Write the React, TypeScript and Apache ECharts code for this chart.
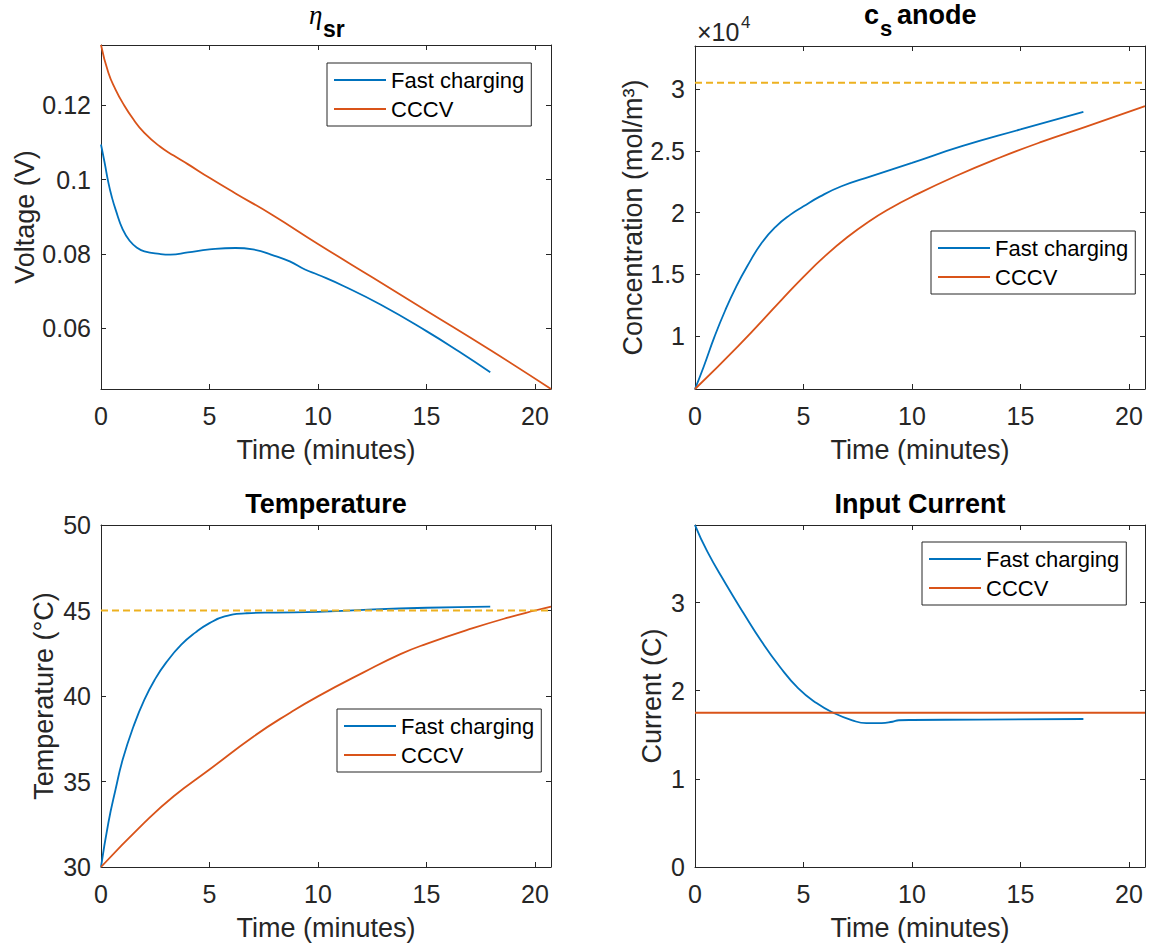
import React, { useEffect, useRef } from "react";
import * as echarts from "echarts";

// ---------- data ----------
const X_MAX = 20.74;
const xTicks = [0, 5, 10, 15, 20];

// eta_sr (V)
const etaFastT = [0, 0.17, 0.34, 0.5, 0.67, 1.0, 1.34, 1.68, 2.0, 2.7, 3.2, 4.0, 5.0, 6.2, 7.0, 8.0, 8.7, 9.4, 10, 11.2, 12.9, 15, 16.5, 17.94];
const etaFastV = [0.1095, 0.1045, 0.0992, 0.0953, 0.092, 0.0866, 0.0834, 0.0816, 0.0807, 0.08, 0.0798, 0.0804, 0.0812, 0.0816, 0.0812, 0.0795, 0.078, 0.0758, 0.0744, 0.0713, 0.0663, 0.0592, 0.0537, 0.0481];
const etaCccvT = [0, 0.34, 0.67, 1.0, 1.5, 2.0, 2.7, 3.35, 4.0, 5.0, 6.2, 7.9, 10, 12.5, 15, 17.94, 20.74];
const etaCccvV = [0.1363, 0.1288, 0.1243, 0.1207, 0.1162, 0.1126, 0.109, 0.1065, 0.1042, 0.1005, 0.0963, 0.0905, 0.0827, 0.0737, 0.0647, 0.0541, 0.0436];
const etaTicks = [0.06, 0.08, 0.1, 0.12];

// c_s anode (mol/m^3)
const csFastT = [0, 0.4, 0.9, 1.4, 1.9, 2.4, 3.07, 3.74, 4.4, 5.0, 5.75, 6.75, 8.1, 10, 12.3, 15, 17.9];
const csFastV = [5690, 7500, 9940, 12100, 14000, 15630, 17530, 18890, 19840, 20510, 21300, 22140, 22950, 24040, 25390, 26750, 28180];
const csCccvT = [0, 2, 4, 5, 6, 7, 8, 9, 10, 12, 14, 16, 18, 20.74];
const csCccvV = [5690, 9190, 12940, 14790, 16490, 17980, 19260, 20350, 21290, 22950, 24430, 25760, 26960, 28640];
const csLimit = 30540;
const csTicks = [10000, 15000, 20000, 25000, 30000];

// Temperature (deg C)
const tempFastT = [0, 0.34, 0.67, 1.0, 1.5, 2.0, 2.5, 3.0, 3.7, 4.36, 5.0, 5.7, 6.7, 8.05, 10, 12.1, 15, 17.94];
const tempFastV = [30, 32.59, 34.53, 36.28, 38.23, 39.79, 41.0, 41.95, 43.0, 43.72, 44.26, 44.65, 44.84, 44.88, 44.92, 45.04, 45.16, 45.23];
const tempCccvT = [0, 2.0, 3.35, 5, 7.05, 8.7, 10, 12.1, 13.8, 15, 17.1, 18.8, 20, 20.74];
const tempCccvV = [30, 32.59, 34.14, 35.7, 37.65, 39.01, 39.98, 41.38, 42.45, 43.05, 43.95, 44.6, 45.0, 45.23];
const tempLimit = 45;
const tempTicks = [30, 35, 40, 45, 50];

// Input current (C-rate)
const curFastT = [0, 0.57, 1.4, 2.24, 3.07, 3.9, 4.75, 5.6, 6.4, 7.25, 7.9, 8.6, 9.1, 9.4, 10, 13.1, 17.9];
const curFastV = [3.879, 3.577, 3.219, 2.879, 2.558, 2.275, 2.03, 1.86, 1.747, 1.664, 1.632, 1.632, 1.648, 1.665, 1.668, 1.672, 1.679];
const curCccvT = [0, 20.74];
const curCccvV = [1.75, 1.75];
const curTicks = [0, 1, 2, 3];

// ---------- styling ----------
const FONT = '"Liberation Sans", Arial, Helvetica, sans-serif';
const TXT = "#262626";
const BLUE = "#0072BD";
const ORANGE = "#D95319";
const YELLOW = "#EDB120";

const zip = (t: number[], v: number[]) => t.map((x, i) => [x, v[i]]);

const grids = [
  { left: 101, top: 45, width: 450, height: 344 },
  { left: 695, top: 46, width: 450, height: 343 },
  { left: 101, top: 525, width: 450, height: 342 },
  { left: 695, top: 525, width: 450, height: 342 },
];

const yDefs = [
  { min: 0.0436, max: 0.1363, ticks: etaTicks, name: "Voltage (V)", gap: 62, fmt: (v: number) => String(v) },
  { min: 5690, max: 33520, ticks: csTicks, name: "Concentration (mol/m³)", gap: 48, fmt: (v: number) => String(v / 10000) },
  { min: 30, max: 50, ticks: tempTicks, name: "Temperature (°C)", gap: 44, fmt: (v: number) => String(v) },
  { min: 0, max: 3.88, ticks: curTicks, name: "Current (C)", gap: 30, fmt: (v: number) => String(v) },
];

const legendPos = [
  { left: 327, top: 63 },
  { left: 931, top: 231 },
  { left: 337, top: 709 },
  { left: 922, top: 542 },
];

export default function App() {
  const ref = useRef<HTMLDivElement>(null);
  useEffect(() => {
    if (!ref.current) return;
    const chart = echarts.init(ref.current, null, { renderer: "svg" });

    const lineCol = "#262626";
    const xAxes: any[] = [];
    const yAxes: any[] = [];
    grids.forEach((_, i) => {
      xAxes.push({
        type: "value", gridIndex: i, min: 0, max: X_MAX, position: "bottom",
        axisLine: { show: true, onZero: false, lineStyle: { color: lineCol, width: 1 } },
        axisTick: { show: true, inside: true, length: 5, customValues: xTicks, lineStyle: { color: lineCol } },
        axisLabel: { show: true, customValues: xTicks, margin: 14, fontSize: 25, color: TXT, fontFamily: FONT },
        splitLine: { show: false },
        name: "Time (minutes)", nameLocation: "middle", nameGap: 47,
        nameTextStyle: { fontSize: 27, color: TXT, fontFamily: FONT },
      });
    });
    grids.forEach((_, i) => {
      xAxes.push({
        type: "value", gridIndex: i, min: 0, max: X_MAX, position: "top",
        axisLine: { show: true, onZero: false, lineStyle: { color: lineCol, width: 1 } },
        axisTick: { show: true, inside: true, length: 5, customValues: xTicks, lineStyle: { color: lineCol } },
        axisLabel: { show: false }, splitLine: { show: false },
      });
    });
    yDefs.forEach((d, i) => {
      yAxes.push({
        type: "value", gridIndex: i, min: d.min, max: d.max, position: "left",
        axisLine: { show: true, onZero: false, lineStyle: { color: lineCol, width: 1 } },
        axisTick: { show: true, inside: true, length: 5, customValues: d.ticks, lineStyle: { color: lineCol } },
        axisLabel: { show: true, customValues: d.ticks, margin: 10, fontSize: 25, color: TXT, fontFamily: FONT, formatter: d.fmt },
        splitLine: { show: false },
        name: d.name, nameLocation: "middle", nameGap: d.gap, nameRotate: 90,
        nameTextStyle: { fontSize: 27, color: TXT, fontFamily: FONT },
      });
    });
    yDefs.forEach((d, i) => {
      yAxes.push({
        type: "value", gridIndex: i, min: d.min, max: d.max, position: "right",
        axisLine: { show: true, onZero: false, lineStyle: { color: lineCol, width: 1 } },
        axisTick: { show: true, inside: true, length: 5, customValues: d.ticks, lineStyle: { color: lineCol } },
        axisLabel: { show: false }, splitLine: { show: false },
      });
    });

    const mk = (name: string, i: number, data: number[][], color: string, dashed = false) => ({
      type: "line", name, xAxisIndex: i, yAxisIndex: i, data,
      symbol: "none", showSymbol: false, smooth: dashed ? false : 0.5,
      lineStyle: { color, width: 1.8, type: dashed ? [7, 4] : "solid" },
      itemStyle: { color }, clip: true, silent: true, z: dashed ? 3 : 2,
    });

    const series = [
      mk("Fast charging", 0, zip(etaFastT, etaFastV), BLUE),
      mk("CCCV", 0, zip(etaCccvT, etaCccvV), ORANGE),
      mk("Fast charging", 1, zip(csFastT, csFastV), BLUE),
      mk("CCCV", 1, zip(csCccvT, csCccvV), ORANGE),
      mk("limit", 1, [[0, csLimit], [X_MAX, csLimit]], YELLOW, true),
      mk("Fast charging", 2, zip(tempFastT, tempFastV), BLUE),
      mk("CCCV", 2, zip(tempCccvT, tempCccvV), ORANGE),
      mk("limit", 2, [[0, tempLimit], [X_MAX, tempLimit]], YELLOW, true),
      mk("Fast charging", 3, zip(curFastT, curFastV), BLUE),
      mk("CCCV", 3, zip(curCccvT, curCccvV), ORANGE),
    ];

    const legends = legendPos.map((p) => ({
      data: ["Fast charging", "CCCV"], left: p.left, top: p.top, orient: "vertical",
      backgroundColor: "#fff", borderColor: "#262626", borderWidth: 1,
      padding: [5, 7, 5, 7], itemGap: 5, itemWidth: 52, itemHeight: 2, icon: "rect",
      selectedMode: false,
      textStyle: { fontSize: 22, lineHeight: 24, color: "#000", fontFamily: FONT },
    }));

    const tstyle = (text: string, size: number, extra: any = {}) => ({
      text, fontSize: size, fontFamily: FONT, fill: "#000", textAlign: "left", textVerticalAlign: "middle", ...extra,
    });

    const graphic = [
      // eta_sr title
      { type: "text", x: 309, y: 15, style: tstyle("η", 27, { fontFamily: '"Liberation Serif", "DejaVu Serif", serif', fontStyle: "italic" }) },
      { type: "text", x: 323, y: 29, style: tstyle("sr", 23, { fontWeight: "bold" }) },
      // c_s anode title
      { type: "text", x: 864, y: 15, style: tstyle("c", 27, { fontWeight: "bold" }) },
      { type: "text", x: 880, y: 28, style: tstyle("s", 22, { fontWeight: "bold" }) },
      { type: "text", x: 897, y: 15, style: tstyle("anode", 27, { fontWeight: "bold" }) },
      // x10^4
      { type: "text", x: 697, y: 32, style: tstyle("×10", 25, { fill: TXT }) },
      { type: "text", x: 741, y: 22, style: tstyle("4", 17, { fill: TXT }) },
      // bottom titles
      { type: "text", x: 326, y: 504, style: tstyle("Temperature", 27, { fontWeight: "bold", textAlign: "center" }) },
      { type: "text", x: 920, y: 504, style: tstyle("Input Current", 27, { fontWeight: "bold", textAlign: "center" }) },
    ];

    chart.setOption({
      animation: false,
      backgroundColor: "#fff",
      grid: grids.map((g) => ({ ...g, containLabel: false })),
      xAxis: xAxes,
      yAxis: yAxes,
      legend: legends,
      series,
      graphic,
    });
    return () => chart.dispose();
  }, []);

  return (
    <div
      ref={ref}
      style={{ position: "absolute", left: 0, top: 0, width: 1149, height: 950, background: "#fff" }}
    />
  );
}
